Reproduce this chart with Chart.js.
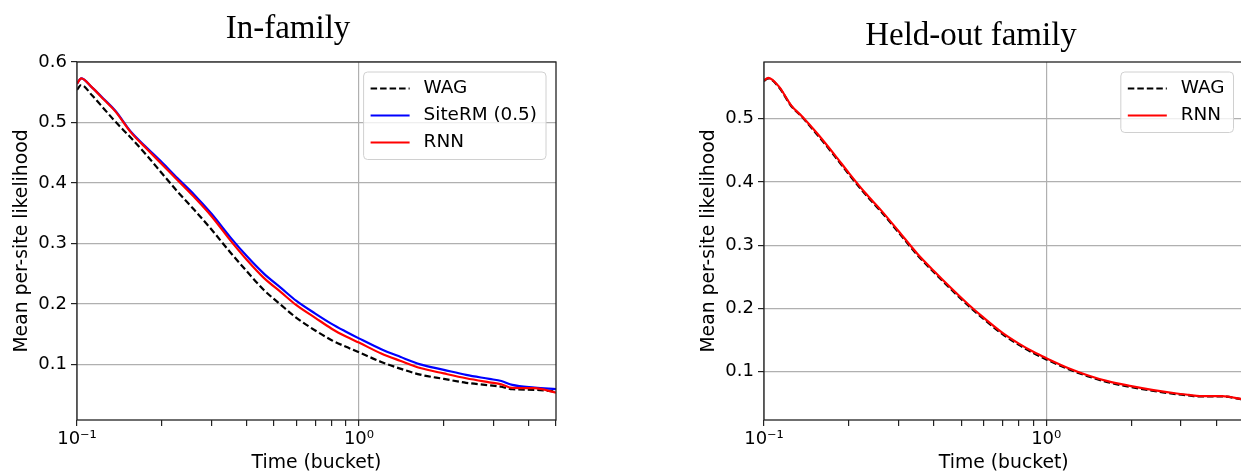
<!DOCTYPE html>
<html>
<head>
<meta charset="utf-8">
<script src="https://cdn.jsdelivr.net/npm/chart.js@4.4.1/dist/chart.umd.min.js"></script>
<style>
  html, body { margin: 0; padding: 0; background: #fff; overflow: hidden; }
  #wrap { position: relative; width: 1241px; height: 474px; overflow: hidden; }
  canvas { position: absolute; top: 0; }
  #inFamily { left: 0; }
  #heldOut { left: 620px; }
</style>
</head>
<body>
<div id="wrap">
  <canvas id="inFamily" width="600" height="474"></canvas>
  <canvas id="heldOut" width="640" height="474"></canvas>
</div>
<script>
// time buckets (x) shared by all curves
const times = [0.1, 0.1035, 0.113, 0.125, 0.137, 0.155, 0.178, 0.2, 0.227, 0.26,
  0.3, 0.35, 0.4, 0.46, 0.53, 0.6, 0.7, 0.8, 0.9, 1.0,
  1.2, 1.4, 1.65, 2.0, 2.4, 2.9, 3.2, 3.5, 4.2, 5.0];

// in-family panel
const inWag = [0.554, 0.562, 0.545, 0.522, 0.501, 0.475, 0.444, 0.416, 0.386, 0.356,
  0.323, 0.285, 0.254, 0.223, 0.198, 0.177, 0.156, 0.140, 0.129, 0.120,
  0.104, 0.093, 0.083, 0.076, 0.0695, 0.0654, 0.063, 0.059, 0.0578, 0.055];
const inSiteRM = [0.564, 0.573, 0.558, 0.538, 0.519, 0.485, 0.457, 0.434, 0.408, 0.381,
  0.349, 0.310, 0.279, 0.250, 0.226, 0.205, 0.184, 0.167, 0.154, 0.143,
  0.125, 0.1125, 0.100, 0.091, 0.0825, 0.076, 0.0725, 0.066, 0.0616, 0.059];
const inRnn = [0.564, 0.573, 0.558, 0.537, 0.518, 0.484, 0.455, 0.431, 0.405, 0.377,
  0.345, 0.305, 0.273, 0.243, 0.219, 0.198, 0.177, 0.159, 0.146, 0.136,
  0.118, 0.106, 0.094, 0.085, 0.077, 0.0703, 0.067, 0.061, 0.0606, 0.0533];

// held-out family panel
const outWag = [0.560, 0.564, 0.550, 0.520, 0.502, 0.474, 0.441, 0.412, 0.382, 0.353,
  0.320, 0.284, 0.257, 0.230, 0.204, 0.183, 0.159, 0.142, 0.129, 0.119,
  0.1035, 0.0925, 0.083, 0.075, 0.069, 0.0638, 0.0618, 0.0603, 0.0603, 0.0553];
const outRnn = [0.561, 0.565, 0.551, 0.521, 0.503, 0.476, 0.443, 0.414, 0.384, 0.355,
  0.322, 0.286, 0.259, 0.232, 0.206, 0.185, 0.161, 0.144, 0.131, 0.121,
  0.105, 0.094, 0.0845, 0.0767, 0.0704, 0.065, 0.0628, 0.0609, 0.0609, 0.0555];

// axis ticks
const xTicks = [0.1, 0.2, 0.3, 0.4, 0.5, 0.6, 0.7, 0.8, 0.9, 1, 2, 3, 4, 5];
const majorTicks = [0.1, 1];
const majorTickLabels = ['10\u207B\u00B9', '10\u2070'];
const inYTicks = [0.1, 0.2, 0.3, 0.4, 0.5, 0.6];
const outYTicks = [0.1, 0.2, 0.3, 0.4, 0.5];

const tickFont = { family: 'DejaVu Sans', size: 18 };
const labelFont = { family: 'DejaVu Sans', size: 18.8 };

function pts(ys) {
  return times.map((t, i) => ({ x: t, y: ys[i] }));
}

function line(label, ys, color, order, dash) {
  return {
    label, data: pts(ys),
    borderColor: color, backgroundColor: color,
    borderWidth: 2.2, borderDash: dash || [],
    pointRadius: 0, cubicInterpolationMode: 'monotone', fill: false, order, clip: 0
  };
}

// axes frame on all four sides
const frame = {
  id: 'frame',
  afterDatasetsDraw(chart) {
    const { ctx, chartArea: a } = chart;
    ctx.save();
    ctx.strokeStyle = '#222';
    ctx.lineWidth = 1.3;
    ctx.strokeRect(a.left, a.top, a.right - a.left, a.bottom - a.top);
    ctx.restore();
  }
};

// matplotlib-like framed legend in the upper right
const boxLegend = {
  id: 'boxLegend',
  afterDraw(chart) {
    const { ctx, chartArea: a } = chart;
    const sets = chart.data.datasets;
    ctx.save();
    ctx.font = '18.4px "DejaVu Sans"';
    const textW = Math.max(...sets.map(d => ctx.measureText(d.label).width));
    const w = 60 + textW + 9;
    const h = 33.5 + (sets.length - 1) * 27;
    const x = a.right - 10 - w, y = a.top + 10;
    ctx.fillStyle = 'rgba(255,255,255,0.8)';
    ctx.strokeStyle = '#d0d0d0';
    ctx.lineWidth = 1;
    ctx.beginPath();
    if (ctx.roundRect) ctx.roundRect(x, y, w, h, 4); else ctx.rect(x, y, w, h);
    ctx.fill();
    ctx.stroke();
    sets.forEach((d, i) => {
      const cy = y + 16.5 + i * 27;
      ctx.strokeStyle = d.borderColor;
      ctx.lineWidth = d.borderWidth;
      ctx.setLineDash(d.borderDash);
      ctx.beginPath();
      ctx.moveTo(x + 7, cy);
      ctx.lineTo(x + 46, cy);
      ctx.stroke();
      ctx.setLineDash([]);
      ctx.fillStyle = '#000';
      ctx.textBaseline = 'middle';
      ctx.fillText(d.label, x + 60, cy);
    });
    ctx.restore();
  }
};

const panelTitle = {
  id: 'panelTitle',
  afterDraw(chart, args, opts) {
    const ctx = chart.ctx;
    ctx.save();
    ctx.font = '33px "Liberation Serif"';
    ctx.fillStyle = '#000';
    ctx.textAlign = 'center';
    ctx.textBaseline = 'alphabetic';
    ctx.fillText(opts.text, opts.x, opts.y);
    ctx.restore();
  }
};

function panel(id, title, datasets, yMin, yMax, yTicks, geo) {
  return new Chart(document.getElementById(id), {
    type: 'line',
    data: { datasets },
    options: {
      responsive: false,
      animation: false,
      devicePixelRatio: 1,
      layout: { padding: { left: 0, top: 62, right: geo.right, bottom: 0 } },
      plugins: {
        legend: { display: false },
        tooltip: { enabled: false },
        panelTitle: { text: title, x: geo.titleX, y: geo.titleY }
      },
      scales: {
        x: {
          type: 'logarithmic', min: 0.1, max: 5,
          afterBuildTicks: s => { s.ticks = xTicks.map(v => ({ value: v })); },
          afterFit: s => { s.height = 54; },
          ticks: {
            autoSkip: false, maxRotation: 0, padding: 3, color: '#000', font: tickFont,
            callback: v => {
              const i = majorTicks.indexOf(v);
              return i < 0 ? '' : majorTickLabels[i];
            }
          },
          grid: {
            color: c => (c.tick && majorTicks.includes(c.tick.value)) ? '#b0b0b0' : 'rgba(0,0,0,0)',
            tickColor: '#222', tickLength: 6, lineWidth: 1.2
          },
          border: { display: false },
          title: { display: true, text: 'Time (bucket)', color: '#000', font: labelFont, padding: { top: 0, bottom: 0 } }
        },
        y: {
          min: yMin, max: yMax,
          afterBuildTicks: s => { s.ticks = yTicks.map(v => ({ value: v })); },
          afterFit: s => { s.width = geo.yWidth; },
          ticks: { color: '#000', font: tickFont, padding: 4, callback: v => v.toFixed(1) },
          grid: { color: '#b0b0b0', tickColor: '#222', tickLength: 6, lineWidth: 1.2 },
          border: { display: false },
          title: { display: true, text: 'Mean per-site likelihood', color: '#000', font: labelFont, padding: { top: geo.yTitlePad, bottom: 0 } }
        }
      }
    },
    plugins: [frame, boxLegend, panelTitle]
  });
}

panel('inFamily', 'In-family', [
  line('WAG', inWag, '#000000', 3, [6.5, 3]),
  line('SiteRM (0.5)', inSiteRM, '#0000ff', 2),
  line('RNN', inRnn, '#ff0000', 1)
], 0.008, 0.6, inYTicks, { right: 44, yWidth: 77, yTitlePad: 11, titleX: 288, titleY: 38 });

panel('heldOut', 'Held-out family', [
  line('WAG', outWag, '#000000', 2, [6.5, 3]),
  line('RNN', outRnn, '#ff0000', 1)
], 0.023, 0.59, outYTicks, { right: 16.5, yWidth: 144, yTitlePad: 78, titleX: 351, titleY: 45 });
</script>
</body>
</html>
